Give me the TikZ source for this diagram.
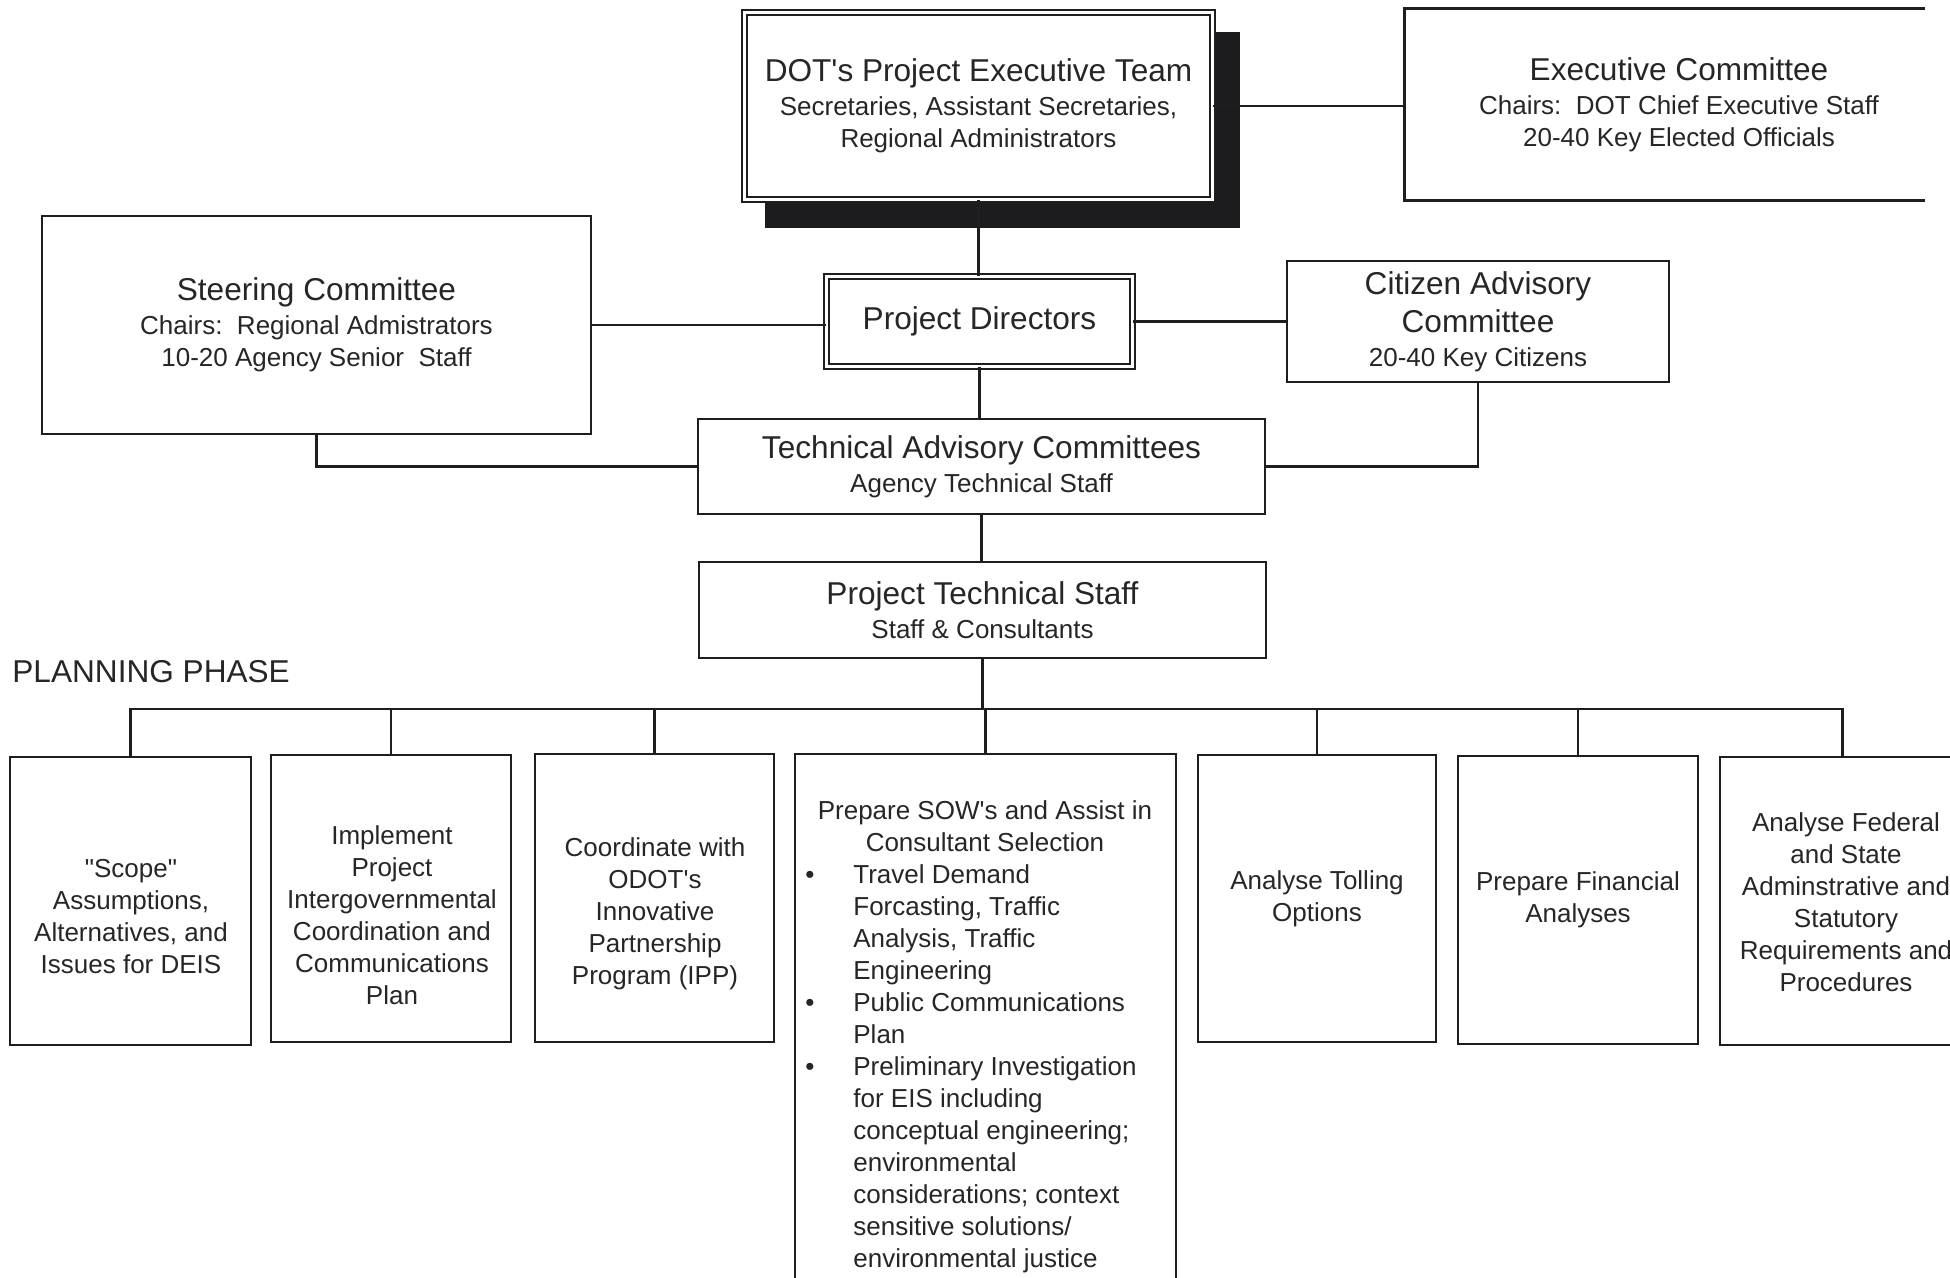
\documentclass[tikz,border=0pt]{standalone}
\usepackage{fontspec}
\newfontfamily\lsans{Liberation Sans}
\usetikzlibrary{fit}
\definecolor{linec}{RGB}{30,30,30}
\definecolor{textc}{RGB}{38,38,38}
\definecolor{shadowc}{RGB}{28,28,30}
\newcommand\MyTitle{\fontsize{15.8}{19}\selectfont}
\newcommand\MyBody{\fontsize{13}{16}\selectfont}
\begin{document}
\begin{tikzpicture}[x=0.5pt,y=-0.5pt,
  frame/.style={draw=linec, line width=1.2pt, fill=white, inner sep=0pt},
  dframe/.style={draw=linec, line width=0.75pt, double=white, double distance=1.75pt, fill=white, inner sep=0pt},
  txt/.style={align=center, inner sep=0pt, font=\lsans\MyBody, text=textc},
  conn/.style={draw=linec, line width=1.1pt}]
\useasboundingbox (0,0) rectangle (1950,1278);
\clip (0,0) rectangle (1950,1278);
\fill[white] (0,0) rectangle (1950,1278);

% shadow of the executive team box
\fill[shadowc] (765,32) rectangle (1240,228);

% top level
\node[dframe, txt, minimum width=234pt, minimum height=93.5pt] (pet) at (978.5,106)
  {{\MyTitle DOT's Project Executive Team}\\[1pt]Secretaries, Assistant Secretaries,\\Regional Administrators};
\node[txt, minimum width=274pt, minimum height=95.5pt] (ec) at (1679,104.5)
  {{\MyTitle Executive Committee}\\[1pt]Chairs:\ \ DOT Chief Executive Staff\\20-40 Key Elected Officials};
\draw[draw=linec, line width=1.2pt] (ec.north west) ++(520,0) -- (ec.north west) -- (ec.south west) -- ++(520,0);

\node[frame, txt, minimum width=274.5pt, minimum height=109pt] (sc) at (316.5,325)
  {{\MyTitle Steering Committee}\\[1pt]Chairs:\ \ Regional Admistrators\\10-20 Agency Senior\ \ Staff};
\node[dframe, txt, minimum width=153pt, minimum height=45pt] (pd) at (979.5,321.5)
  {{\MyTitle Project Directors}};
\node[frame, txt, minimum width=191pt, minimum height=60.5pt] (cac) at (1478,321.5)
  {{\MyTitle Citizen Advisory}\\[3pt]{\MyTitle Committee}\\[1pt]20-40 Key Citizens};
\node[frame, txt, minimum width=283.5pt, minimum height=47.5pt] (tac) at (981.5,466.5)
  {{\MyTitle Technical Advisory Committees}\\[1pt]Agency Technical Staff};
\node[frame, txt, minimum width=283.5pt, minimum height=48pt] (pts) at (982.5,610)
  {{\MyTitle Project Technical Staff}\\[1pt]Staff \& Consultants};

\node[txt, font=\lsans\MyTitle, anchor=west] (pp) at (12,672) {PLANNING PHASE};

% planning phase boxes
\node[frame, fit={(10,757) (251,1045)}] (b1) {};
\node[frame, fit={(271,755) (511,1042)}] (b2) {};
\node[frame, fit={(535,754) (774,1042)}] (b3) {};
\node[frame, fit={(795,754) (1176,1300)}] (b4) {};
\node[frame, fit={(1198,755) (1436,1042)}] (b5) {};
\node[frame, fit={(1458,756) (1698,1044)}] (b6) {};
\node[frame, fit={(1720,757) (1965,1045)}] (b7) {};

\node[txt] (b1t) at (131,917) {"Scope"\\Assumptions,\\Alternatives, and\\Issues for DEIS};
\node[txt] (b2t) at (392,915) {Implement\\Project\\Intergovernmental\\Coordination and\\Communications\\Plan};
\node[txt] (b3t) at (655,914) {Coordinate with\\ODOT's\\Innovative\\Partnership\\Program (IPP)};
\node[txt, anchor=north] (b4t) at (985,800) {Prepare SOW's and Assist in\\Consultant Selection\\
  \begin{tabular}[t]{@{}l@{}l@{\hspace{14pt}}}
  \makebox[24pt][l]{\textbullet} & Travel Demand\\
   & Forcasting, Traffic\\
   & Analysis, Traffic\\
   & Engineering\\
  \makebox[24pt][l]{\textbullet} & Public Communications\\
   & Plan\\
  \makebox[24pt][l]{\textbullet} & Preliminary Investigation\\
   & for EIS including\\
   & conceptual engineering;\\
   & environmental\\
   & considerations; context\\
   & sensitive solutions/\\
   & environmental justice
  \end{tabular}};
\node[txt] (b5t) at (1317,899) {Analyse Tolling\\Options};
\node[txt] (b6t) at (1578,900) {Prepare Financial\\Analyses};
\node[txt] (b7t) at (1846,902) {Analyse Federal\\and State\\Adminstrative and\\Statutory\\Requirements and\\Procedures};

% connectors
\draw[conn] (pet.east) -- (pet.east -| ec.west);
\draw[conn] (pet.south) -- (pet.south |- pd.north);
\draw[conn] (sc.east) -- (sc.east -| pd.west);
\draw[conn] (pd.east) -- (pd.east -| cac.west);
\draw[conn] (pd.south) -- (pd.south |- tac.north);
\draw[conn] (sc.south) |- (tac.west);
\draw[conn] (cac.south) |- (tac.east);
\draw[conn] (tac.south) -- (tac.south |- pts.north);
\coordinate (bus) at (984,709);
\draw[conn] (pts.south) -- (pts.south |- bus);
\draw[conn] (b1.north) -- (b1.north |- bus) -- (b7.north |- bus) -- (b7.north);
\foreach \b in {b2,b3,b4,b5,b6} \draw[conn] (\b.north) -- (\b.north |- bus);
\end{tikzpicture}
\end{document}
